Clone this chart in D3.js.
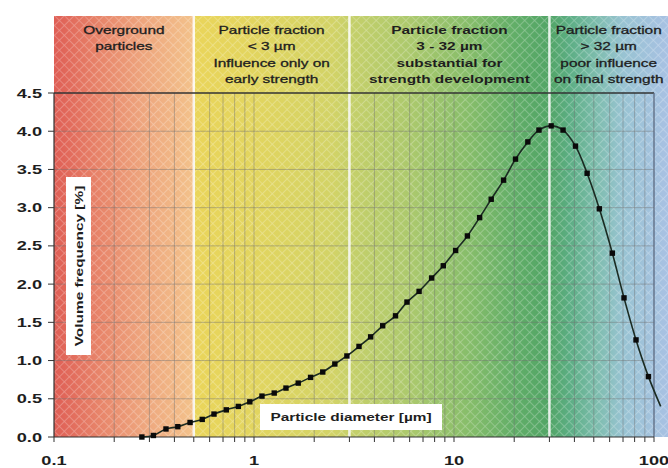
<!DOCTYPE html>
<html>
<head>
<meta charset="utf-8">
<script src="https://cdn.jsdelivr.net/npm/d3@7"></script>
<style>
  body { margin: 0; background: #fff; }
  svg { display: block; }
  text { font-family: "Liberation Sans", Arial, sans-serif; }
</style>
</head>
<body>
<div id="chart"></div>
<script>
// particle size distribution
const diameters = [0.275, 0.314, 0.363, 0.416, 0.479, 0.551, 0.631, 0.727, 0.835, 0.953,
  1.096, 1.262, 1.445, 1.664, 1.918, 2.207, 2.536, 2.914, 3.35, 3.83,
  4.40, 5.10, 5.82, 6.69, 7.73, 8.84, 10.19, 11.67, 13.43, 15.35,
  17.70, 20.3, 23.4, 26.6, 30.6, 35.1, 40.5, 46.3, 53.3, 61.9,
  70.8, 81.3, 93.8, 108]
const frequency = [0.00, 0.02, 0.105, 0.135, 0.19, 0.23, 0.30, 0.355, 0.40, 0.46,
  0.535, 0.575, 0.64, 0.705, 0.78, 0.85, 0.955, 1.06, 1.185, 1.31,
  1.455, 1.585, 1.765, 1.905, 2.08, 2.24, 2.44, 2.63, 2.87, 3.11,
  3.36, 3.635, 3.86, 4.015, 4.07, 4.015, 3.805, 3.45, 2.985, 2.405,
  1.82, 1.27, 0.79, 0.40]

const bandEdges = [0.1, 0.5, 3, 30]
const bandLabels = [
  ["Overground", "particles"],
  ["Particle fraction", "< 3 µm", "Influence only on", "early strength"],
  ["Particle fraction", "3 - 32 µm", "substantial for", "strength development"],
  ["Particle fraction", "> 32 µm", "poor influence", "on final strength"]
]
const xTicks = [0.1, 1, 10, 100]
const xTickLabels = ["0.1", "1", "10", "100"]
const yTicks = [0, 0.5, 1, 1.5, 2, 2.5, 3, 3.5, 4, 4.5]
const yTickLabels = ["0.0", "0.5", "1.0", "1.5", "2.0", "2.5", "3.0", "3.5", "4.0", "4.5"]

let width = 668,
    height = 468,
    mLeft = 54, mRight = 654, mTop = 93, mBottom = 437,
    bandTop = 16,
    stretch = 1.4

let x = d3.scaleLog().domain([0.1, 100]).range([mLeft, mRight])
let y = d3.scaleLinear().domain([0, 4.5]).range([mBottom, mTop])
let xMax = x.invert(width)

let svg = d3.select("#chart").append("svg")
    .attr("width", width)
    .attr("height", height)

let defs = svg.append("defs")

// background colour runs red -> yellow -> green -> blue across the size axis
let stops = [
  [0.1, "#df5e55"], [0.17, "#e8856a"], [0.28, "#eea67e"], [0.5, "#f3c28b"],
  [0.5, "#ead55a"], [1, "#e2d55f"], [2.5, "#d2d367"], [3, "#c6d06a"],
  [6, "#acc96d"], [12, "#86bd6a"], [20, "#62ae68"], [30, "#52a566"],
  [38, "#5cae84"], [52, "#7ebdae"], [70, "#98c3d2"], [xMax, "#a8c1e3"]
]
let grad = defs.append("linearGradient")
    .attr("id", "bg")
    .attr("gradientUnits", "userSpaceOnUse")
    .attr("x1", mLeft).attr("x2", width)
    .attr("y1", 0).attr("y2", 0)
grad.selectAll("stop")
    .data(stops).enter()
    .append("stop")
      .attr("offset", function(d) { return (x(d[0]) - mLeft) / (width - mLeft) })
      .attr("stop-color", function(d) { return d[1] })

let hatch = defs.append("pattern")
    .attr("id", "hatch")
    .attr("width", 7).attr("height", 7)
    .attr("patternUnits", "userSpaceOnUse")
    .attr("patternTransform", "rotate(45)")
hatch.append("path")
    .attr("d", "M0,0H7M0,0V7")
    .attr("stroke", "#fff")
    .attr("stroke-width", 1.6)
    .attr("stroke-opacity", 0.3)

svg.append("rect")
    .attr("x", mLeft).attr("y", bandTop)
    .attr("width", width - mLeft).attr("height", mBottom - bandTop)
    .attr("fill", "url(#bg)")
svg.append("rect")
    .attr("x", mLeft).attr("y", bandTop)
    .attr("width", width - mLeft).attr("height", mBottom - bandTop)
    .attr("fill", "url(#hatch)")

// grid
svg.append("g").selectAll("line")
    .data(x.ticks().filter(function(d) { return d > 0.1 && d < 100 })).enter()
    .append("line")
      .attr("x1", function(d) { return x(d) }).attr("x2", function(d) { return x(d) })
      .attr("y1", mTop).attr("y2", mBottom)
      .attr("stroke", "#707070")
      .attr("stroke-opacity", 0.45)
svg.append("g").selectAll("line")
    .data(yTicks.slice(1, -1)).enter()
    .append("line")
      .attr("x1", mLeft).attr("x2", mRight)
      .attr("y1", function(d) { return y(d) }).attr("y2", function(d) { return y(d) })
      .attr("stroke", "#707070")
      .attr("stroke-opacity", 0.45)

// white band separators
svg.append("g").selectAll("line")
    .data(bandEdges.slice(1)).enter()
    .append("line")
      .attr("x1", function(d) { return x(d) }).attr("x2", function(d) { return x(d) })
      .attr("y1", bandTop).attr("y2", mBottom)
      .attr("stroke", "#fff")
      .attr("stroke-width", 2.5)
      .attr("stroke-opacity", 0.85)

// frame
svg.append("line")
    .attr("x1", mLeft).attr("x2", mRight)
    .attr("y1", mTop).attr("y2", mTop)
    .attr("stroke", "#333").attr("stroke-width", 1.3)
svg.append("line")
    .attr("x1", mRight).attr("x2", mRight)
    .attr("y1", mTop).attr("y2", mBottom)
    .attr("stroke", "#5d6a80").attr("stroke-width", 1.3)
svg.append("line")
    .attr("x1", mLeft).attr("x2", mLeft)
    .attr("y1", mTop).attr("y2", mBottom)
    .attr("stroke", "#333").attr("stroke-width", 1.2)
svg.append("line")
    .attr("x1", mLeft).attr("x2", mRight)
    .attr("y1", mBottom).attr("y2", mBottom)
    .attr("stroke", "#333").attr("stroke-width", 1.2)

// stretched text helper (the source picture is widened horizontally)
function label(g, tx, ty, str, size, weight, anchor, rot) {
  return g.append("text")
      .attr("transform", "translate(" + tx + "," + ty + ")" + (rot ? " rotate(" + rot + ")" : "") + " scale(" + stretch + ",1)")
      .attr("text-anchor", anchor || "middle")
      .attr("font-size", size)
      .attr("font-weight", weight)
      .attr("fill", "#1e1e1e")
      .text(str)
}

// axes ticks
let axes = svg.append("g")
axes.selectAll("line.yt")
    .data(yTicks).enter()
    .append("line")
      .attr("x1", mLeft - 6).attr("x2", mLeft)
      .attr("y1", function(d) { return y(d) }).attr("y2", function(d) { return y(d) })
      .attr("stroke", "#333")
axes.selectAll("line.xt")
    .data(x.ticks()).enter()
    .append("line")
      .attr("x1", function(d) { return x(d) }).attr("x2", function(d) { return x(d) })
      .attr("y1", mBottom).attr("y2", mBottom + 5)
      .attr("stroke", "#333")
yTicks.forEach(function(d, i) {
  label(axes, mLeft - 12, y(d) + 4.6, yTickLabels[i], 13, "bold", "end")
})
xTicks.forEach(function(d, i) {
  label(axes, x(d), 465, xTickLabels[i], 13, "bold", "middle")
})

// band headings
let edges = bandEdges.concat([xMax])
bandLabels.forEach(function(lines, i) {
  let cx = (x(edges[i]) + x(edges[i + 1])) / 2
  lines.forEach(function(str, j) {
    let t = label(svg, cx, 33.5 + j * 16.5, str, 11, i === 2 ? "bold" : "normal", "middle")
    if (i !== 2) t.attr("stroke", "#1e1e1e").attr("stroke-width", 0.3)
  })
})

// axis titles in white boxes
svg.append("rect")
    .attr("x", 66).attr("y", 177).attr("width", 25).attr("height", 178)
    .attr("fill", "#fff")
label(svg, 82.5, 266, "Volume frequency [%]", 11, "bold", "middle", -90)
svg.append("rect")
    .attr("x", 260).attr("y", 404).attr("width", 182).attr("height", 26)
    .attr("fill", "#fff")
label(svg, 351, 421, "Particle diameter [µm]", 11, "bold", "middle")

// curve + markers
let pts = diameters.map(function(d, i) { return [d, frequency[i]] })
let line = d3.line()
    .x(function(d) { return x(d[0]) })
    .y(function(d) { return y(d[1]) })
    .curve(d3.curveCatmullRom)
svg.append("path")
    .datum(pts)
    .attr("d", line)
    .attr("fill", "none")
    .attr("stroke", "#1b2b22")
    .attr("stroke-width", 1.6)
svg.append("g").selectAll("rect")
    .data(pts.filter(function(d) { return d[0] <= 100 })).enter()
    .append("rect")
      .attr("x", function(d) { return x(d[0]) - 2.7 })
      .attr("y", function(d) { return y(d[1]) - 2.7 })
      .attr("width", 5.4).attr("height", 5.4)
      .attr("fill", "#0a0a0a")
</script>
</body>
</html>
